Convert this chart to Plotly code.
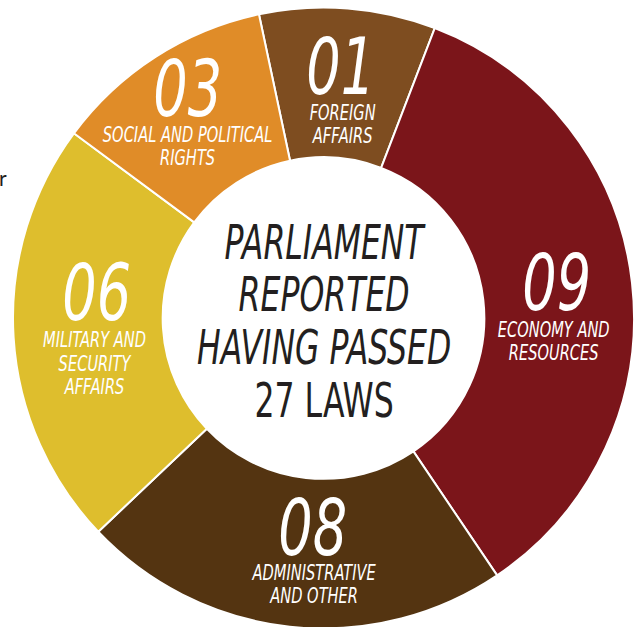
import json
import plotly.graph_objects as go

# ---- data ----
categories = ["FOREIGN<br>AFFAIRS", "ECONOMY AND<br>RESOURCES", "ADMINISTRATIVE<br>AND OTHER",
              "MILITARY AND<br>SECURITY<br>AFFAIRS", "SOCIAL AND POLITICAL<br>RIGHTS"]
law_counts = [1, 9, 8, 6, 3]
# angular share of each slice as drawn in the infographic (degrees)
arc_share = [33, 125, 80.5, 80, 41.5]
total_laws = 27

colors = ["#7E4D20", "#7B151A", "#543411", "#DEBE2D", "#E08C28"]

W, H = 640, 636
CX, CY, R = 323.5, 318, 310.5


def px(x):
    return x / W


def py(y):
    return 1 - y / H


fig = go.Figure(go.Pie(
    values=arc_share,
    labels=[c.replace("<br>", " ") for c in categories],
    customdata=law_counts,
    sort=False,
    direction="clockwise",
    rotation=-12,
    hole=0.518,
    marker=dict(colors=colors, line=dict(color="white", width=2)),
    textinfo="none",
    hoverinfo="label",
    showlegend=False,
    domain=dict(x=[px(CX - R), px(CX + R)], y=[py(CY + R), py(CY - R)]),
))

FONT = "DejaVu Sans Condensed, DejaVu Sans, sans-serif"

# label layout (pixel centres)
num_pos = [(340, 67), (556, 283), (312.5, 527.5), (96, 293), (187, 89)]
cap_x = [342, 553, 313, 94, 187.5]
cap_y = [124, 341, 584, 363, 146]      # centre of caption block
CAP_SP = 23.5                          # caption line pitch (px)

ann, xscale, fsize, pitch, nlines = [], [], [], [], []


def add(text, x, y, size, color, style, sx, sp=0):
    ann.append(dict(x=px(x), y=py(y), xref="paper", yref="paper", text=text, showarrow=False,
                    font=dict(family=FONT, size=size, color=color, style=style),
                    xanchor="center", yanchor="middle"))
    xscale.append(sx)
    fsize.append(size)
    pitch.append(sp)
    nlines.append(text.count("<br>") + 1)


for i in range(len(law_counts)):
    add(f"{law_counts[i]:02d}", num_pos[i][0], num_pos[i][1], 78, "white", "italic", 0.77)
    add(categories[i], cap_x[i], cap_y[i], 22, "white", "italic", 0.74, CAP_SP)

center_text = "<i>PARLIAMENT</i><br><i>REPORTED</i><br><i>HAVING PASSED</i><br>%d LAWS" % total_laws
add(center_text, CX, 320.5, 48, "#231F20", "normal", 0.73, 52.7)

ann.append(dict(x=px(3), y=py(177), xref="paper", yref="paper", text="r", showarrow=False,
                font=dict(family="Lato, sans-serif", size=21, color="#231F20"),
                xanchor="center", yanchor="middle"))
xscale.append(1)
fsize.append(21)
pitch.append(0)
nlines.append(1)

fig.update_layout(width=W, height=H, margin=dict(l=0, r=0, t=0, b=0),
                  paper_bgcolor="white", plot_bgcolor="white", annotations=ann)

# condense the text horizontally and tighten line pitch (the original uses a condensed typeface)
post = """
var gd = document.getElementById('{plot_id}');
var sx = %s, fs = %s, sp = %s, nl = %s;
gd.querySelectorAll('g.annotation').forEach(function(g){
  var i = +g.getAttribute('data-index');
  var t = g.querySelector('text.annotation-text');
  if (!t) return;
  var s = sx[i] || 1;
  var shift = 0;
  if (sp[i] && nl[i] > 1) {
    var L = 1.3 * fs[i];
    var lines = t.querySelectorAll('tspan.line');
    var off = nl[i] - lines.length;
    for (var k = 0; k < lines.length; k++) {
      lines[k].setAttribute('dy', ((k + off) * sp[i]) + 'px');
    }
    shift = (nl[i] - 1) * (L - sp[i]) / 2;
  }
  if (s === 1 && shift === 0) return;
  var bb = t.getBBox();
  var cx = bb.x + bb.width / 2;
  t.setAttribute('transform', 'translate(' + cx + ',' + shift + ') scale(' + s + ',1) translate(' + (-cx) + ',0)');
});
""" % (json.dumps(xscale), json.dumps(fsize), json.dumps(pitch), json.dumps(nlines))

fig.write_html("out.html", post_script=post)
